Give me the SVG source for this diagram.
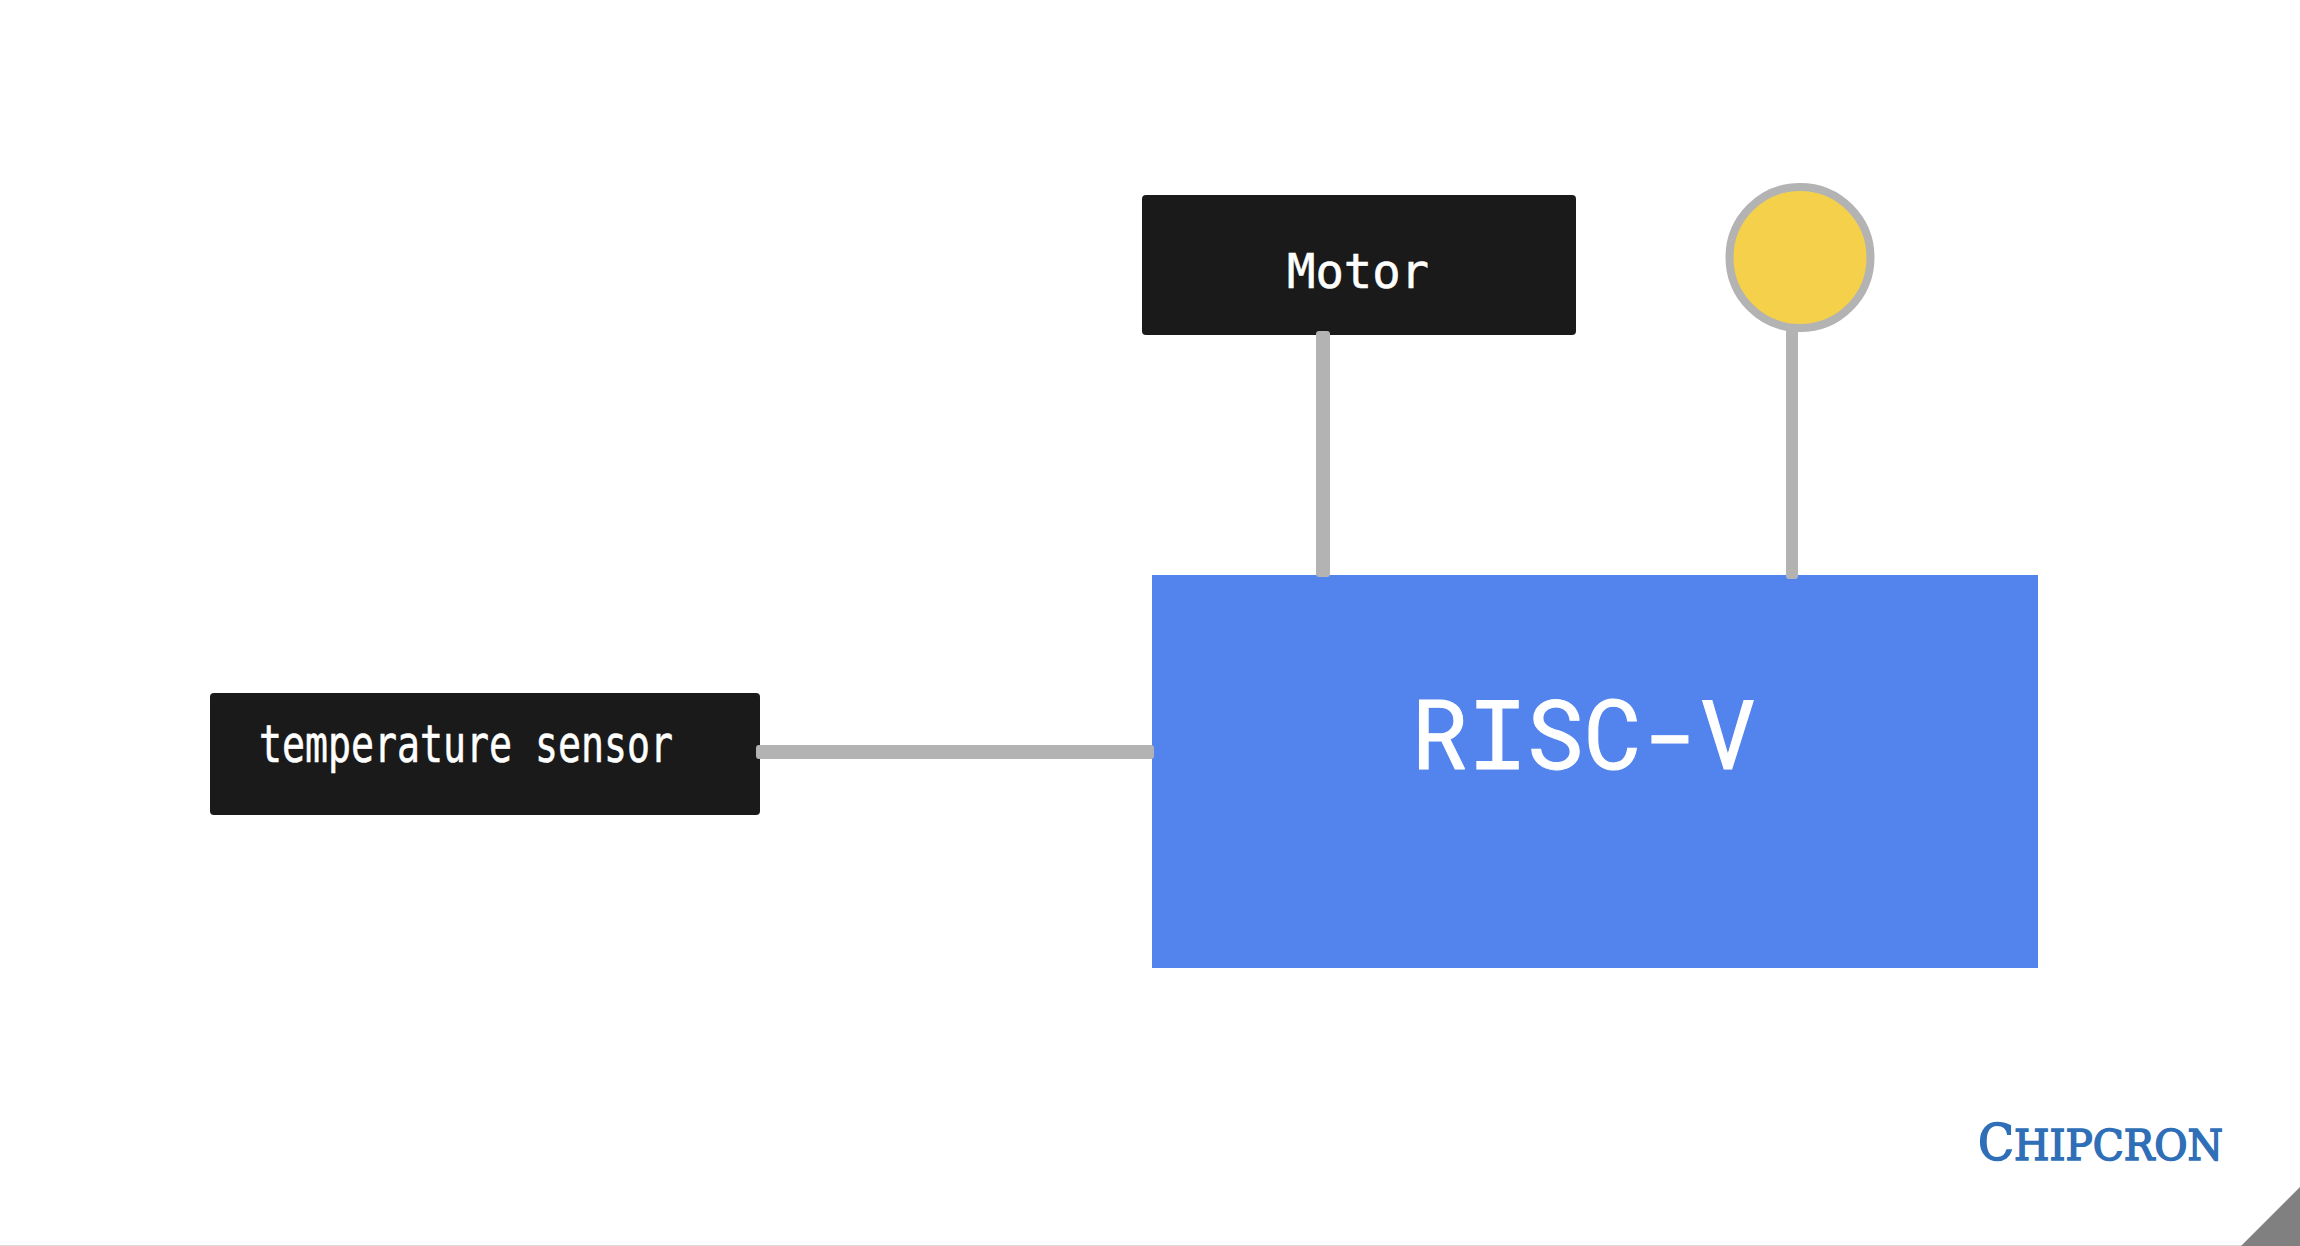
<svg xmlns="http://www.w3.org/2000/svg" width="2300" height="1246" viewBox="0 0 2300 1246">
<style>
.box{fill:#1a1a1a}
.lbl{fill:#fff;stroke:#fff;stroke-width:.6;font-family:"DejaVu Sans Mono","Liberation Mono",monospace}
.wire{fill:#b3b3b3}
</style>
<rect width="2300" height="1246" fill="#fff"/>
<g id="cpu"><rect x="1152" y="575" width="886" height="393" fill="#5383ec"/><text x="1411" y="768.5" font-size="96" textLength="346" lengthAdjust="spacingAndGlyphs" fill="#fff" stroke="#fff" stroke-width="1" font-family="'Roboto Mono','DejaVu Sans Mono',monospace">RISC-V</text></g>
<g id="motor"><rect class="box" x="1142" y="195" width="434" height="140" rx="4"/><text class="lbl" x="1287" y="288" font-size="48.5" textLength="142" lengthAdjust="spacingAndGlyphs">Motor</text></g>
<g id="sensor"><rect class="box" x="210" y="693" width="550" height="122" rx="4"/><text class="lbl" x="259" y="761.5" font-size="51" textLength="414" lengthAdjust="spacingAndGlyphs">temperature sensor</text></g>
<g id="led"><circle cx="1800" cy="257.5" r="70.5" fill="#f5d04a" stroke="#b3b3b3" stroke-width="8"/></g>
<g id="connectors">
<rect class="wire" x="1316" y="331" width="14" height="246" rx="3"/>
<rect class="wire" x="1786" y="328" width="12" height="251" rx="3"/>
<rect class="wire" x="756" y="745" width="398" height="14" rx="3"/>
</g>
<g id="logo"><text x="1978" y="1159.5" fill="#2f6fb8" stroke="#2f6fb8" stroke-width="1.6" font-family="'DejaVu Serif','Liberation Serif',serif" font-size="43" textLength="245" lengthAdjust="spacingAndGlyphs"><tspan font-size="50">C</tspan>HIPCRON</text></g>
<g id="footer"><rect x="0" y="1245" width="2300" height="1" fill="#ddd"/><polygon points="2241,1246 2300,1187 2300,1246" fill="#808080"/></g>
</svg>
